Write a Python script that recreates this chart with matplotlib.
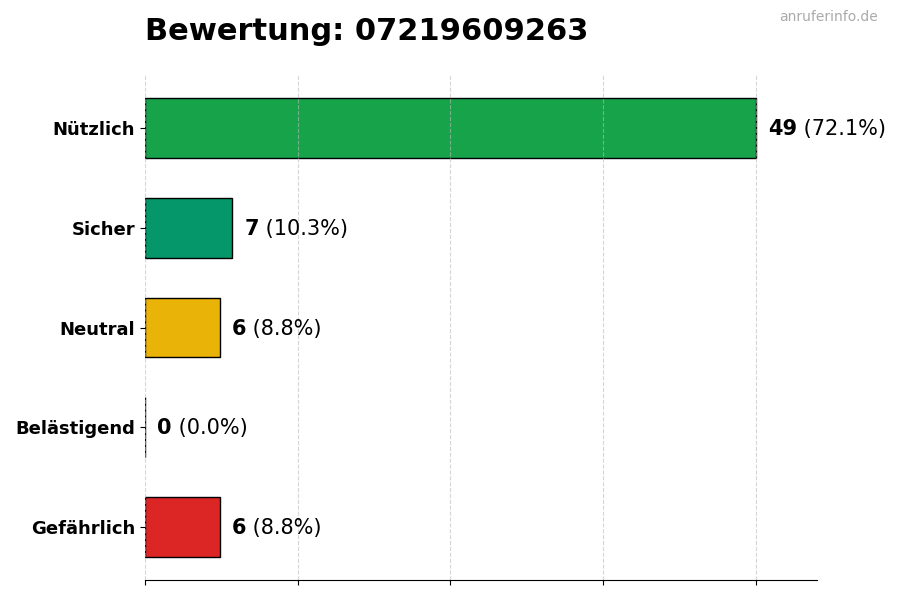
import matplotlib
matplotlib.use('Agg')
import matplotlib.pyplot as plt
import numpy as np

# Bewertungen der Nummer
kategorien = ['Nützlich', 'Sicher', 'Neutral', 'Belästigend', 'Gefährlich']
anzahl = [49, 7, 6, 0, 6]
farben = ['#16a34a', '#059669', '#eab308', '#6b7280', '#dc2626']
titel = 'Bewertung: 07219609263'

gesamt = sum(anzahl)
maxwert = max(anzahl)

fig = plt.figure(figsize=(9, 6), dpi=100)
ax = fig.add_axes([0.161, 0.0333, 0.747, 0.8417])

y = np.arange(len(kategorien))
ax.barh(y, anzahl, height=0.6, color=farben, edgecolor='black', linewidth=1)
ax.invert_yaxis()
ax.set_yticks(y)
ax.set_yticklabels(kategorien, fontsize=13, fontweight='bold')
ax.set_xlim(0, maxwert * 1.1)
ax.set_xticks(np.linspace(0, maxwert, 5))
ax.set_xticklabels([])
ax.grid(axis='x', linestyle='--', color='#bbbbbb', alpha=0.6)

for s in ['top', 'right', 'left']:
    ax.spines[s].set_visible(False)

for i, v in enumerate(anzahl):
    t = ax.text(v + maxwert * 0.02, i + 0.01, str(v), fontsize=15, fontweight='bold',
                va='center', ha='left')
    ax.annotate(' (%.1f%%)' % (v / gesamt * 100), xy=(1, 0.5), xycoords=t,
                va='center', ha='left', fontsize=15)

fig.text(0.161, 0.948, titel, fontsize=22, fontweight='bold', ha='left', va='center')
fig.text(0.975, 0.971, 'anruferinfo.de', fontsize=10, color='#aaaaaa', ha='right', va='center')

fig.savefig('out.png', dpi=100)
